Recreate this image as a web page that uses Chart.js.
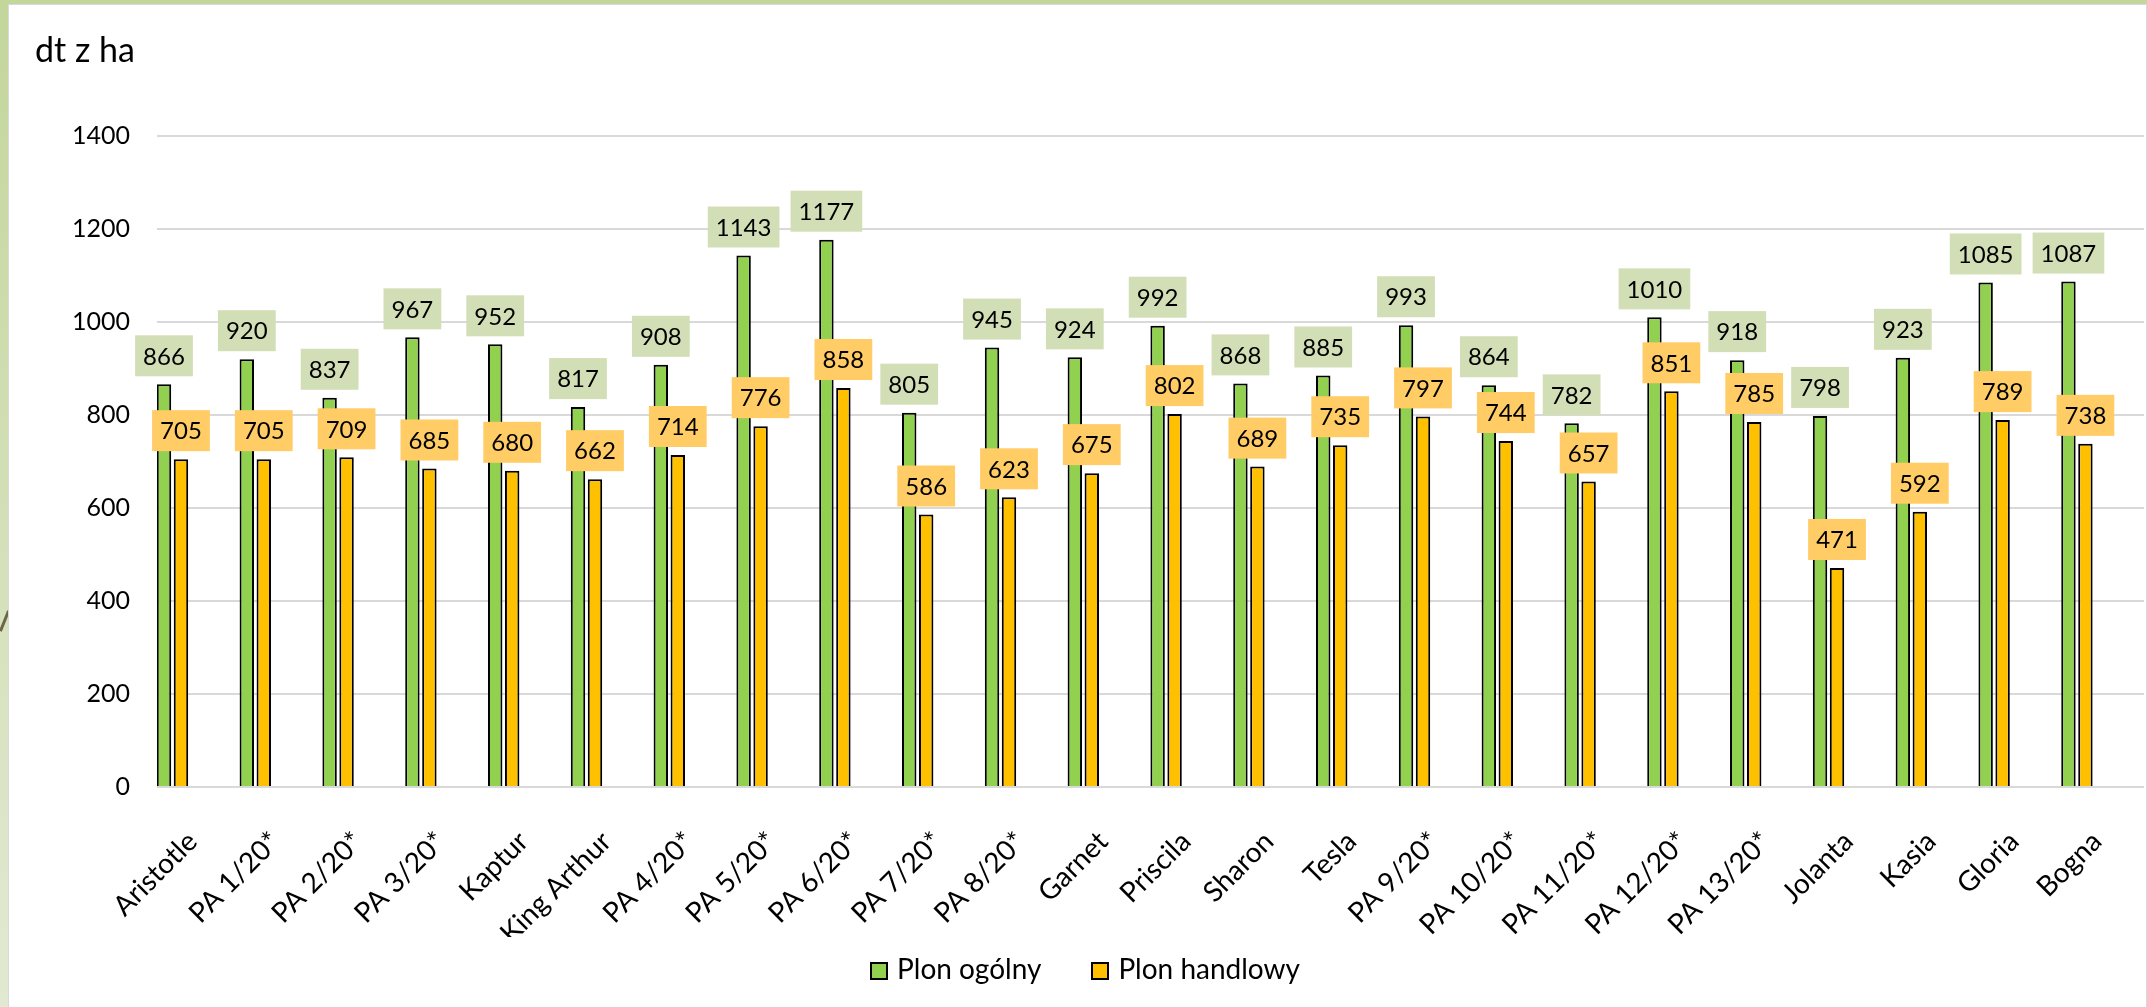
<!DOCTYPE html>
<html>
<head>
<meta charset="utf-8">
<title>Plon ogólny i handlowy</title>
<script src="https://cdn.jsdelivr.net/npm/chart.js@4.4.1/dist/chart.umd.min.js"></script>
<style>
  html, body { margin: 0; padding: 0; }
  body {
    width: 2147px;
    height: 1007px;
    overflow: hidden;
    background: linear-gradient(#c3d69b, #e2e9d2);
  }
  #wrap {
    position: absolute;
    left: 8px;
    top: 4px;
    width: 2137px;
    height: 1002px;
    background: #fff;
    border-left: 1px solid #d9d9d9;
    border-top: 1px solid #d9d9d9;
    border-right: 1px solid #d9d9d9;
  }
  #swoosh {
    position: absolute;
    left: 3px;
    top: 610px;
    width: 3px;
    height: 22px;
    background: #6e6446;
    transform: rotate(22deg);
  }
  #legend {
    position: absolute;
    left: 15px;
    right: 0;
    top: 944px;
    text-align: center;
    font: 28px Lato, sans-serif;
    line-height: 38px;
    color: #000;
    white-space: nowrap;
  }
  #legend .item { display: inline-block; margin: 0 25px; }
  #legend .box {
    display: inline-block;
    width: 18px;
    height: 18px;
    box-sizing: border-box;
    border: 2px solid #000;
    margin-right: 9px;
    vertical-align: -1px;
  }
</style>
</head>
<body>
<div id="swoosh"></div>
<div id="wrap">
  <canvas id="yieldChart"></canvas>
  <div id="legend"></div>
</div>
<script>
const varieties = [
  "Aristotle", "PA 1/20*", "PA 2/20*", "PA 3/20*", "Kaptur", "King Arthur",
  "PA 4/20*", "PA 5/20*", "PA 6/20*", "PA 7/20*", "PA 8/20*", "Garnet",
  "Priscila", "Sharon", "Tesla", "PA 9/20*", "PA 10/20*", "PA 11/20*",
  "PA 12/20*", "PA 13/20*", "Jolanta", "Kasia", "Gloria", "Bogna"
];
const totalYield = [866, 920, 837, 967, 952, 817, 908, 1143, 1177, 805, 945, 924,
  992, 868, 885, 993, 864, 782, 1010, 918, 798, 923, 1085, 1087];
const marketYield = [705, 705, 709, 685, 680, 662, 714, 776, 858, 586, 623, 675,
  802, 689, 735, 797, 744, 657, 851, 785, 471, 592, 789, 738];
const yTicks = [0, 200, 400, 600, 800, 1000, 1200, 1400];
const unitLabel = "dt z ha";
const seriesNames = ["Plon ogólny", "Plon handlowy"];

Chart.defaults.font.family = "Lato, 'Open Sans', sans-serif";
Chart.defaults.color = "#000";

// boxes with the values above each bar
const valueBoxes = {
  id: "valueBoxes",
  afterDatasetsDraw(chart) {
    const ctx = chart.ctx;
    ctx.save();
    ctx.font = "24px Lato";
    ctx.textAlign = "center";
    ctx.textBaseline = "middle";
    chart.data.datasets.forEach((ds, d) => {
      const meta = chart.getDatasetMeta(d);
      meta.data.forEach((bar, i) => {
        const text = String(ds.data[i].y);
        const w = ctx.measureText(text).width + 16;
        const h = 41;
        const top = bar.y - 8 - h;
        ctx.fillStyle = ds.labelBg;
        ctx.fillRect(bar.x - w / 2, top, w, h);
        ctx.fillStyle = "#000";
        ctx.fillText(text, bar.x, top + h / 2 + 1);
      });
    });
    ctx.restore();
  }
};

// unit text in the top left corner
const unitText = {
  id: "unitText",
  afterDraw(chart) {
    const ctx = chart.ctx;
    ctx.save();
    ctx.font = "34px Lato";
    ctx.fillStyle = "#000";
    ctx.textBaseline = "alphabetic";
    ctx.fillText(unitLabel, 26, 57);
    ctx.restore();
  }
};

const ctx = document.getElementById("yieldChart").getContext("2d");

const chart = new Chart(ctx, {
  type: "bar",
  data: {
    datasets: [
      {
        label: seriesNames[0],
        data: totalYield.map((v, i) => ({ x: i, y: v })),
        backgroundColor: "#92d050",
        borderColor: "#000",
        borderWidth: 2,
        labelBg: "#d2deb5",
      },
      {
        label: seriesNames[1],
        data: marketYield.map((v, i) => ({ x: i, y: v })),
        backgroundColor: "#ffc000",
        borderColor: "#000",
        borderWidth: 2,
        labelBg: "#ffcc66",
      },
    ],
  },
  options: {
    responsive: true,
    maintainAspectRatio: false,
    animation: false,
    categoryPercentage: 0.41,
    barPercentage: 0.85,
    layout: { padding: { top: 131, right: 2, bottom: 70, left: 0 } },
    scales: {
      x: {
        type: "linear",
        min: -0.187,
        max: 23.81,
        offset: false,
        grid: { display: false },
        border: { display: false },
        afterBuildTicks: (scale) => {
          scale.ticks = varieties.map((v, i) => ({ value: i }));
        },
        ticks: {
          autoSkip: false,
          minRotation: 45,
          maxRotation: 45,
          padding: 30,
          labelOffset: 20,
          font: { size: 28 },
          callback: (value) => varieties[Math.round(value)],
        },
        afterFit: (scale) => { scale.height = 150; },
      },
      y: {
        min: 0,
        max: 1400,
        afterBuildTicks: (scale) => {
          scale.ticks = yTicks.map((v) => ({ value: v }));
        },
        ticks: { padding: 27, font: { size: 25 }, callback: (value) => String(value) },
        grid: { color: "#d9d9d9", lineWidth: 2, drawTicks: false },
        border: { display: false },
        afterFit: (scale) => { scale.width = 148; },
      },
    },
    plugins: {
      legend: { display: false },
      tooltip: { enabled: false },
    },
  },
  plugins: [valueBoxes, unitText],
});

// html legend built from the datasets
const legendEl = document.getElementById("legend");
chart.data.datasets.forEach((ds) => {
  const item = document.createElement("span");
  item.className = "item";
  const box = document.createElement("span");
  box.className = "box";
  box.style.background = ds.backgroundColor;
  item.appendChild(box);
  item.appendChild(document.createTextNode(ds.label));
  legendEl.appendChild(item);
});
</script>
</body>
</html>
